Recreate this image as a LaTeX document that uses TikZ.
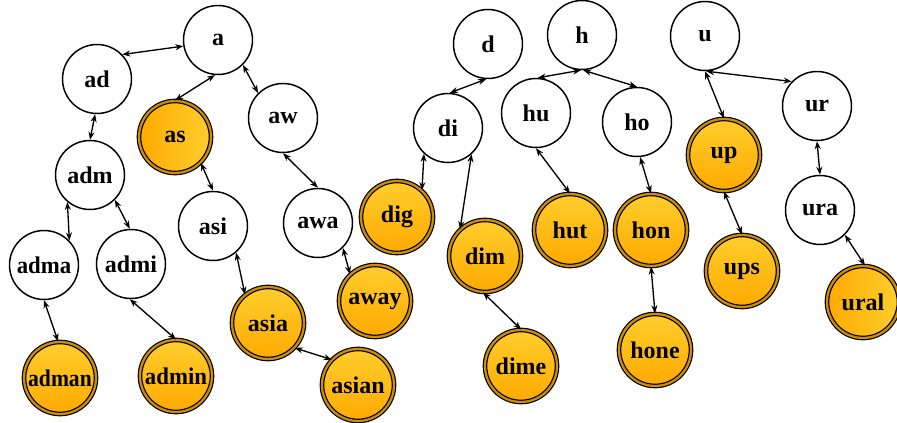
\documentclass[tikz,border=0pt]{standalone}
\usepackage{fontspec}
\setmainfont{Liberation Serif}
\usetikzlibrary{arrows.meta}
\definecolor{ringgold}{RGB}{205,142,0}
\definecolor{orangetop}{RGB}{255,206,45}
\definecolor{orangebot}{RGB}{255,170,0}
\begin{document}
\begin{tikzpicture}[x=0.75pt,y=0.75pt,
  word/.style={circle,draw,line width=1.1pt,minimum size=51.75pt,inner sep=0pt,font=\fontsize{18}{20}\selectfont\bfseries},
  leaf/.style={word,minimum size=54pt,line width=0.9pt,double=ringgold,double distance=1.7pt,top color=orangetop,bottom color=orangebot},
  sideleaf/.style={word,minimum size=54pt,line width=0.9pt,double=ringgold,double distance=1.7pt,left color=orangebot,right color=orangetop},
  link/.style={{Stealth[length=6pt,width=4.5pt]}-{Stealth[length=6pt,width=4.5pt]},line width=1pt}]
\useasboundingbox (0,0) rectangle (897,-423);
\node[word] (a) at (218,-40) {a};
\node[word] (ad) at (97,-79) {ad};
\node[sideleaf] (as) at (175,-137) {as};
\node[word] (aw) at (283,-118) {aw};
\node[word] (adm) at (90,-175) {adm};
\node[word] (asi) at (213,-226) {asi};
\node[word] (awa) at (318,-223) {awa};
\node[word] (adma) at (44,-265) {\scalebox{0.95}[1]{adma}};
\node[word] (admi) at (131,-264) {admi};
\node[leaf] (asia) at (268,-323) {asia};
\node[leaf] (away) at (375,-301) {away};
\node[leaf] (adman) at (60,-378) {\scalebox{0.9}[1]{adman}};
\node[leaf] (admin) at (176,-376) {\scalebox{0.95}[1]{admin}};
\node[leaf] (asian) at (358,-385) {asian};
\node[word] (d) at (488,-44) {d};
\node[word] (di) at (448,-128) {di};
\node[leaf] (dig) at (397,-217) {dig};
\node[leaf] (dim) at (485,-256) {dim};
\node[leaf] (dime) at (521,-366) {dime};
\node[word] (h) at (582,-35) {h};
\node[word] (hu) at (536,-113) {hu};
\node[word] (ho) at (637,-122) {ho};
\node[leaf] (hut) at (570,-230) {hut};
\node[leaf] (hon) at (651,-230) {hon};
\node[leaf] (hone) at (655,-350) {hone};
\node[word] (u) at (705,-36) {u};
\node[word] (ur) at (817,-106) {ur};
\node[leaf] (up) at (724,-155) {up};
\node[word] (ura) at (820,-210) {ura};
\node[leaf] (ups) at (742,-271) {ups};
\node[sideleaf] (ural) at (863,-302) {ural};
\draw[link] (ad.44) -- (a.190);
\draw[link] (a.265) -- (as.90);
\draw[link] (a.315) -- (aw.135);
\draw[link] (ad.267) -- (adm.90);
\draw[link] (adm.230) -- (adma.44);
\draw[link] (adm.315) -- (admi.92);
\draw[link] (adma.270) -- (adman.93);
\draw[link] (admi.268) -- (admin.90);
\draw[link] (as.315) -- (asi.90);
\draw[link] (aw.270) -- (awa.90);
\draw[link] (asi.311) -- (asia.129);
\draw[link] (awa.315) -- (away.133);
\draw[link] (asia.317) -- (asian.136);
\draw[link] (d.267) -- (di.87);
\draw[link] (di.227) -- (dig.47);
\draw[link] (di.312) -- (dim.133);
\draw[link] (dim.267) -- (dime.90);
\draw[link] (h.268) -- (hu.87);
\draw[link] (h.272) -- (ho.90);
\draw[link] (hu.270) -- (hut.90);
\draw[link] (ho.275) -- (hon.90);
\draw[link] (hon.270) -- (hone.90);
\draw[link] (u.270) -- (up.90);
\draw[link] (u.272) -- (ur.136);
\draw[link] (up.270) -- (ups.90);
\draw[link] (ur.270) -- (ura.90);
\draw[link] (ura.315) -- (ural.87);
\end{tikzpicture}
\end{document}
